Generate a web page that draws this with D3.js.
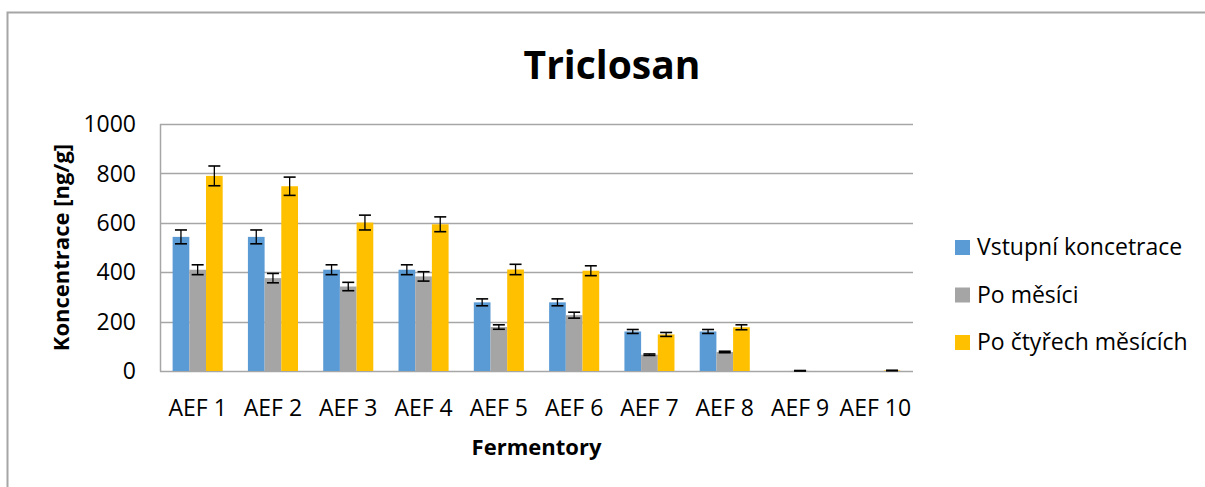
<!DOCTYPE html>
<html>
<head>
<meta charset="utf-8">
<script src="https://cdn.jsdelivr.net/npm/d3@7"></script>
<style>
  body { margin: 0; background: #fff; }
  svg { display: block; font-family: "Open Sans", "Noto Sans", sans-serif; }
</style>
</head>
<body>
<svg id="chart" width="1205" height="487"></svg>
<script>
// data
var categories = ["AEF 1", "AEF 2", "AEF 3", "AEF 4", "AEF 5", "AEF 6", "AEF 7", "AEF 8", "AEF 9", "AEF 10"];
var seriesNames = ["Vstupní koncetrace", "Po měsíci", "Po čtyřech měsících"];
var vstupni = [543, 543, 410, 410, 278, 278, 160, 160, 0, 0];
var vstupniErr = [28, 28, 20, 20, 14, 14, 8, 8, 0, 0];
var poMesici = [410, 376, 342, 383, 178, 226, 66, 77, 1, 0];
var poMesiciErr = [20, 19, 17, 19, 9, 12, 3, 3, 1, 0];
var poCtyrech = [790, 748, 601, 594, 411, 406, 148, 177, 0, 2];
var poCtyrechErr = [40, 37, 30, 30, 21, 20, 8, 10, 0, 1];
var yTicks = [0, 200, 400, 600, 800, 1000];

var seg_color = ["#5B9BD5", "#A5A5A5", "#FFC000"];
var values = [vstupni, poMesici, poCtyrech];
var errors = [vstupniErr, poMesiciErr, poCtyrechErr];

var svg = d3.select("#chart");

// outer frame (only top and left edges show)
svg.append("path")
    .attr("d", "M7.5,487V12.5H1205")
    .attr("fill", "none").attr("stroke", "#a6a6a6").attr("stroke-width", 2);

var pLeft = 160, pRight = 913, pTop = 124, pBottom = 371;

var x = d3.scaleBand().domain(categories).range([pLeft, pRight]).paddingInner(0.335).paddingOuter(0.1675);
var xs = d3.scaleBand().domain(d3.range(3)).range([0, x.bandwidth()]);
var y = d3.scaleLinear().domain([0, 1000]).range([pBottom, pTop]);

// gridlines
svg.append("g").selectAll("line")
    .data(yTicks).enter().append("line")
    .attr("x1", pLeft).attr("x2", pRight)
    .attr("y1", function (d) { return Math.round(y(d)) + 0.5; })
    .attr("y2", function (d) { return Math.round(y(d)) + 0.5; })
    .attr("stroke", "#a6a6a6").attr("stroke-width", 1.5);

// left axis line
svg.append("line")
    .attr("x1", pLeft + 0.5).attr("x2", pLeft + 0.5)
    .attr("y1", y(1000)).attr("y2", y(0) + 0.5)
    .attr("stroke", "#a6a6a6").attr("stroke-width", 1.5);

// y tick labels
svg.append("g").selectAll("text")
    .data(yTicks).enter().append("text")
    .attr("x", 136).attr("y", function (d) { return y(d); })
    .attr("dy", "0.36em")
    .attr("text-anchor", "end")
    .style("font-size", "23px").style("fill", "#000")
    .text(function (d) { return d; });

// bars
var groups = svg.append("g").selectAll(".grp")
    .data(categories).enter().append("g")
    .attr("transform", function (d) { return "translate(" + x(d) + ",0)"; });

function rows(d, i) {
    return d3.range(3).map(function (s) { return { s: s, v: values[s][i], e: errors[s][i] }; });
}

groups.selectAll("rect")
    .data(rows)
    .enter().append("rect")
    .attr("x", function (d) { return xs(d.s); })
    .attr("width", xs.bandwidth())
    .attr("y", function (d) { return y(d.v); })
    .attr("height", function (d) { return y(0) - y(d.v); })
    .attr("fill", function (d) { return seg_color[d.s]; });

// error bars
var eb = groups.selectAll(".err")
    .data(function (d, i) { return rows(d, i).filter(function (r) { return r.v > 0; }); })
    .enter().append("g")
    .attr("class", "err");

eb.append("line")
    .attr("x1", function (d) { return xs(d.s) + xs.bandwidth() / 2; })
    .attr("x2", function (d) { return xs(d.s) + xs.bandwidth() / 2; })
    .attr("y1", function (d) { return y(d.v + d.e); })
    .attr("y2", function (d) { return y(d.v - d.e); })
    .attr("stroke", "#000").attr("stroke-width", 1.3);
[1, -1].forEach(function (sgn) {
    eb.append("line")
        .attr("x1", function (d) { return xs(d.s) + xs.bandwidth() / 2 - 6; })
        .attr("x2", function (d) { return xs(d.s) + xs.bandwidth() / 2 + 6; })
        .attr("y1", function (d) { return y(d.v + sgn * d.e); })
        .attr("y2", function (d) { return y(d.v + sgn * d.e); })
        .attr("stroke", "#000").attr("stroke-width", 1.6);
});

// x labels
svg.append("g").selectAll("text")
    .data(categories).enter().append("text")
    .attr("x", function (d) { return x(d) + x.bandwidth() / 2; })
    .attr("y", 416)
    .attr("text-anchor", "middle")
    .style("font-size", "23px").style("fill", "#000")
    .text(function (d) { return d; });

// titles
svg.append("text")
    .attr("x", 612).attr("y", 79)
    .attr("text-anchor", "middle")
    .style("font-size", "39px").style("font-weight", "bold")
    .text("Triclosan");

svg.append("text")
    .attr("x", (pLeft + pRight) / 2).attr("y", 455)
    .attr("text-anchor", "middle")
    .style("font-size", "22px").style("font-weight", "bold")
    .text("Fermentory");

svg.append("text")
    .attr("transform", "translate(69," + (pTop + pBottom) / 2 + ") rotate(-90)")
    .attr("text-anchor", "middle")
    .style("font-size", "22px").style("font-weight", "bold")
    .text("Koncentrace [ng/g]");

// legend
var legend = svg.append("g").selectAll(".legend")
    .data(seriesNames).enter().append("g")
    .attr("class", "legend")
    .attr("transform", function (d, i) { return "translate(955," + (247 + i * 47.5) + ")"; });

legend.append("rect")
    .attr("x", 0).attr("y", -7)
    .attr("width", 15).attr("height", 15)
    .attr("fill", function (d, i) { return seg_color[i]; });

legend.append("text")
    .attr("x", 22).attr("y", 0)
    .attr("dy", "0.36em")
    .style("font-size", "23px").style("fill", "#000")
    .text(function (d) { return d; });
</script>
</body>
</html>
